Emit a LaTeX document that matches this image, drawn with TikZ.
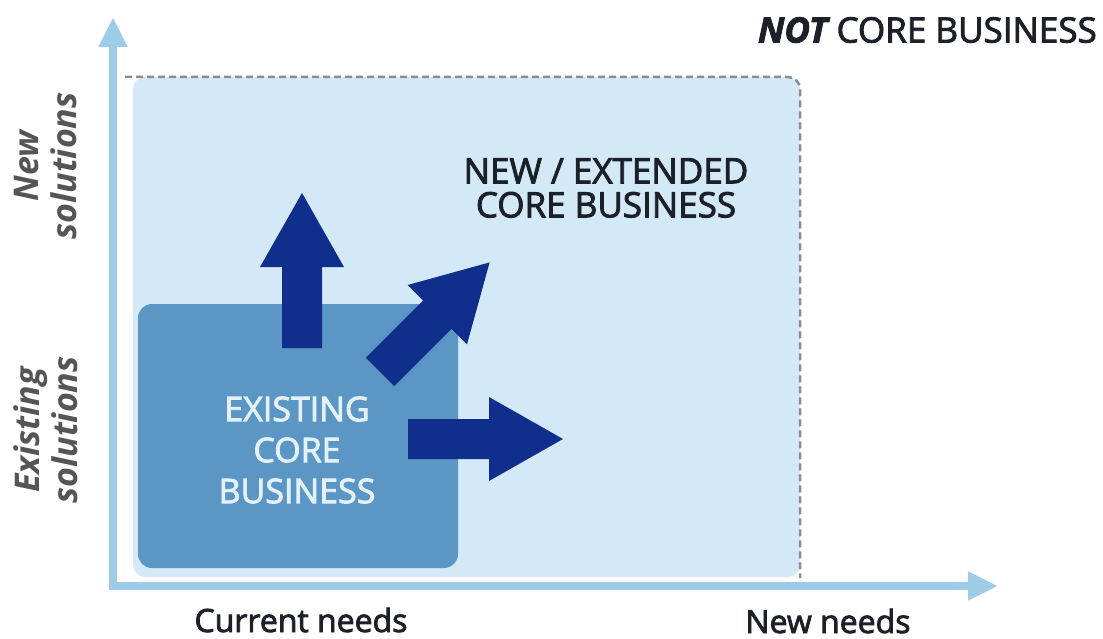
\documentclass[tikz,border=0pt]{standalone}
\usepackage{fontspec}
\setmainfont{Open Sans}
\newfontfamily\sbfont{Open Sans}[FakeBold=2.5]
\usetikzlibrary{arrows.meta}
\definecolor{lightfill}{RGB}{212,233,247}
\definecolor{darkbox}{RGB}{91,150,196}
\definecolor{arrowblue}{RGB}{16,46,140}
\definecolor{axisblue}{RGB}{156,204,232}
\definecolor{dashgray}{RGB}{140,140,140}
\definecolor{boxtext}{RGB}{227,241,251}
\definecolor{labelgray}{RGB}{85,85,85}
\definecolor{textdark}{RGB}{28,32,40}
\tikzset{
  blockarrow/.pic={\fill[arrowblue] (0,-20) -- (81,-20) -- (81,-42) -- (155,0) -- (81,42) -- (81,20) -- (0,20) -- cycle;},
  axisline/.style={draw=axisblue, line width=8pt, -{Triangle[length=30pt,width=27pt]}},
  caplabel/.style={font=\sbfont\fontsize{35}{34}\selectfont, text=textdark, align=center, inner sep=0pt},
  sidelabel/.style={font=\fontsize{34}{38}\selectfont\bfseries\itshape, text=labelgray, align=center, rotate=90, inner sep=0pt},
  axislabel/.style={font=\sbfont\fontsize{32}{36}\selectfont, text=textdark, inner sep=0pt}
}
\begin{document}
\begin{tikzpicture}[x=1pt,y=-1pt]
\useasboundingbox (0,0) rectangle (1103,639);
% light region
\fill[lightfill, rounded corners=12pt] (133,577) -- (133,77) -- (800,77) -- (800,577) -- cycle;
\draw[dashgray, line width=2.5pt, dash pattern=on 7pt off 4pt, rounded corners=12pt] (125,77) -- (800,77) -- (800,578);
% existing core box
\fill[darkbox, rounded corners=14pt] (138,304) rectangle (458,568);
% axes
\coordinate (ybase) at (113,590);
\coordinate (ytip) at (113,17);
\coordinate (xbase) at (109,586);
\coordinate (xtip) at (998,586);
\draw[axisline] (ybase) -- (ytip);
\draw[axisline] (xbase) -- (xtip);
% arrows
\pic at (302,348) [rotate=90] {blockarrow};
\pic at (380,372) [rotate=45] {blockarrow};
\pic at (408,439) {blockarrow};
% labels
\node[caplabel, text=boxtext, font=\sbfont\fontsize{34}{41}\selectfont] (existing) at (297,450) {EXISTING\\CORE\\BUSINESS};
\node[caplabel] (extended) at (606,188) {NEW / EXTENDED\\CORE BUSINESS};
\node[caplabel, anchor=east] (notcore) at (1097,30) {{\bfseries\itshape NOT} CORE BUSINESS};
\node[sidelabel] (newsol) at (46,166) {New\\solutions};
\node[sidelabel] (exsol) at (46,430) {Existing\\solutions};
\node[axislabel] (curneeds) at (301,620) {Current needs};
\node[axislabel] (newneeds) at (828,621) {New needs};
\end{tikzpicture}
\end{document}
